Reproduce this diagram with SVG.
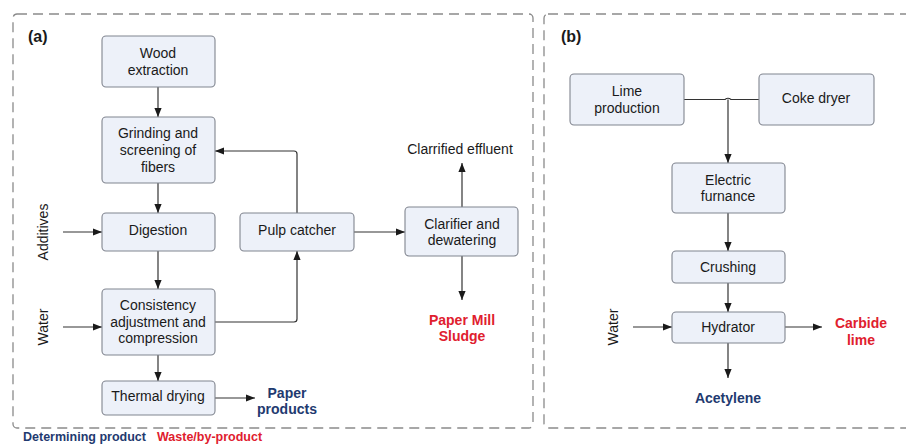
<svg xmlns="http://www.w3.org/2000/svg" width="906" height="445" viewBox="0 0 906 445">
<defs>
<marker id="ah" viewBox="0 0 10 10" refX="10" refY="5" markerWidth="9" markerHeight="9" markerUnits="userSpaceOnUse" orient="auto">
<path d="M0,1 L10,5 L0,9 z" fill="#1a1a1a"/>
</marker>
<style>
.panel{fill:none;stroke:#8a8a8a;stroke-width:1.3;stroke-dasharray:10 6}
.box{fill:#edf1f9;stroke:#80858f;stroke-width:1.1}
.t{font-family:"Liberation Sans",Arial,sans-serif;font-size:14px;fill:#1a1a1a;text-anchor:middle}
.lab{font-family:"Liberation Sans",Arial,sans-serif;font-size:16px;font-weight:bold;fill:#1a1a1a}
.blue{font-family:"Liberation Sans",Arial,sans-serif;font-size:14px;font-weight:bold;fill:#1f3a70;text-anchor:middle}
.red{font-family:"Liberation Sans",Arial,sans-serif;font-size:14px;font-weight:bold;fill:#e0202e;text-anchor:middle}
.leg{font-family:"Liberation Sans",Arial,sans-serif;font-size:12.5px;font-weight:bold}
.c{fill:none;stroke:#333;stroke-width:1.2}
.ca{fill:none;stroke:#333;stroke-width:1.2;marker-end:url(#ah)}
</style>
</defs>
<rect width="906" height="445" fill="#ffffff"/>
<rect class="panel" x="13" y="14" width="520" height="414" rx="4"/>
<rect class="panel" x="544" y="14" width="380" height="414" rx="4"/>
<text class="lab" x="28" y="42">(a)</text>
<text class="lab" x="561" y="42">(b)</text>

<g id="connectors">
<line class="ca" x1="158" y1="87" x2="158" y2="117"/>
<line class="ca" x1="158" y1="183" x2="158" y2="213"/>
<line class="ca" x1="158" y1="251" x2="158" y2="289"/>
<line class="ca" x1="158" y1="355" x2="158" y2="381"/>
<line class="ca" x1="215" y1="398" x2="255" y2="398"/>
<line class="ca" x1="63" y1="232" x2="102" y2="232"/>
<line class="ca" x1="63" y1="327" x2="102" y2="327"/>
<path class="ca" d="M215,322 H294 Q297,322 297,319 V251"/>
<path class="ca" d="M297,213 V154 Q297,151 294,151 H215"/>
<line class="ca" x1="354" y1="232" x2="405" y2="232"/>
<line class="ca" x1="462" y1="207" x2="462" y2="163"/>
<line class="ca" x1="462" y1="256" x2="462" y2="300"/>
<path class="c" d="M684,99.5 H725 Q728,97 731,99.5 H759"/>
<line class="ca" x1="728" y1="99.5" x2="728" y2="163"/>
<line class="ca" x1="728" y1="213" x2="728" y2="251"/>
<line class="ca" x1="728" y1="283" x2="728" y2="312"/>
<line class="ca" x1="633" y1="327" x2="672" y2="327"/>
<line class="ca" x1="785" y1="327" x2="822" y2="327"/>
<line class="ca" x1="728" y1="343" x2="728" y2="378"/>
</g>

<g id="wood">
<rect class="box" x="102" y="36" width="113" height="51" rx="4"/>
<text class="t" x="158" y="58">Wood</text>
<text class="t" x="158" y="75">extraction</text>
</g>
<g id="grinding">
<rect class="box" x="102" y="117" width="113" height="66" rx="4"/>
<text class="t" x="158" y="138">Grinding and</text>
<text class="t" x="158" y="155">screening of</text>
<text class="t" x="158" y="172">fibers</text>
</g>
<g id="digestion">
<rect class="box" x="102" y="213" width="113" height="38" rx="4"/>
<text class="t" x="158" y="235">Digestion</text>
</g>
<g id="consistency">
<rect class="box" x="102" y="289" width="113" height="66" rx="4"/>
<text class="t" x="158" y="310">Consistency</text>
<text class="t" x="158" y="327">adjustment and</text>
<text class="t" x="158" y="343">compression</text>
</g>
<g id="thermal">
<rect class="box" x="102" y="381" width="113" height="34" rx="4"/>
<text class="t" x="158" y="401">Thermal drying</text>
</g>
<g id="pulp">
<rect class="box" x="240" y="213" width="114" height="38" rx="4"/>
<text class="t" x="297" y="235">Pulp catcher</text>
</g>
<g id="clarifier">
<rect class="box" x="405" y="207" width="113" height="49" rx="4"/>
<text class="t" x="462" y="229">Clarifier and</text>
<text class="t" x="462" y="245">dewatering</text>
</g>
<g id="effluent">
<text class="t" x="460" y="154">Clarrified effluent</text>
</g>
<g id="sludge">
<text class="red" x="462" y="325">Paper Mill</text>
<text class="red" x="462" y="341">Sludge</text>
</g>
<g id="paper">
<text class="blue" x="287" y="398">Paper</text>
<text class="blue" x="287" y="414">products</text>
</g>
<g id="additives">
<text class="t" transform="translate(48,232) rotate(-90)" x="0" y="0">Additives</text>
</g>
<g id="water-a">
<text class="t" transform="translate(48,327) rotate(-90)" x="0" y="0">Water</text>
</g>

<g id="lime">
<rect class="box" x="570" y="74" width="114" height="51" rx="4"/>
<text class="t" x="627" y="96">Lime</text>
<text class="t" x="627" y="113">production</text>
</g>
<g id="coke">
<rect class="box" x="759" y="74" width="115" height="51" rx="4"/>
<text class="t" x="816" y="103">Coke dryer</text>
</g>
<g id="furnace">
<rect class="box" x="672" y="163" width="113" height="50" rx="4"/>
<text class="t" x="728" y="185">Electric</text>
<text class="t" x="728" y="201">furnance</text>
</g>
<g id="crushing">
<rect class="box" x="672" y="251" width="113" height="32" rx="4"/>
<text class="t" x="728" y="272">Crushing</text>
</g>
<g id="hydrator">
<rect class="box" x="672" y="312" width="113" height="31" rx="4"/>
<text class="t" x="728" y="332">Hydrator</text>
</g>
<g id="water-b">
<text class="t" transform="translate(618,327) rotate(-90)" x="0" y="0">Water</text>
</g>
<g id="carbide">
<text class="red" x="861" y="328">Carbide</text>
<text class="red" x="861" y="345">lime</text>
</g>
<g id="acetylene">
<text class="blue" x="728" y="403">Acetylene</text>
</g>

<g id="legend">
<text class="leg" x="23" y="441" fill="#1f3a70">Determining product</text>
<text class="leg" x="157" y="441" fill="#e0202e">Waste/by-product</text>
</g>
</svg>
